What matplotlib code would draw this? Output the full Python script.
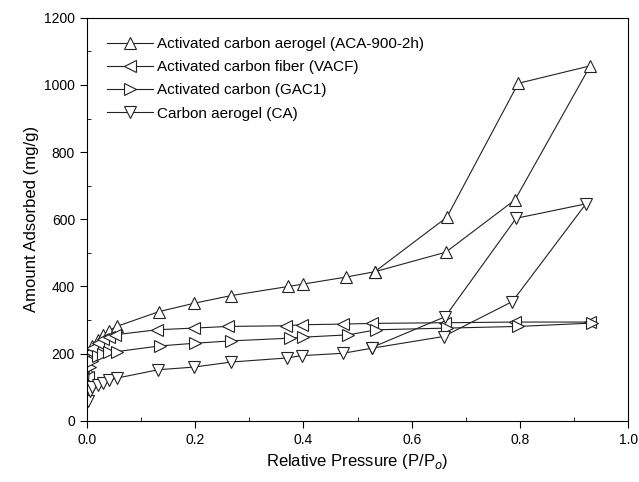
import matplotlib.pyplot as plt
from matplotlib.ticker import MultipleLocator

plt.rcParams['font.family'] = ['Liberation Sans', 'DejaVu Sans']

# adsorption branch followed by desorption branch
p_aca = [0.002, 0.005, 0.01, 0.02, 0.03, 0.04, 0.055, 0.133, 0.198, 0.267, 0.372, 0.399,
         0.479, 0.532, 0.665, 0.797, 0.930, 0.791, 0.663, 0.532]
q_aca = [150, 205, 222, 240, 255, 268, 281, 325, 350, 373, 400, 407,
         428, 444, 606, 1005, 1057, 658, 502, 444]

p_vacf = [0.002, 0.005, 0.01, 0.02, 0.03, 0.04, 0.052, 0.129, 0.197, 0.261, 0.368, 0.397,
          0.474, 0.526, 0.662, 0.791, 0.930]
q_vacf = [130, 205, 218, 232, 244, 250, 256, 271, 276, 281, 283, 286,
          288, 290, 292, 294, 294]

p_gac = [0.002, 0.005, 0.01, 0.02, 0.03, 0.04, 0.055, 0.135, 0.200, 0.267, 0.375, 0.400,
         0.483, 0.535, 0.665, 0.797, 0.933]
q_gac = [100, 160, 178, 192, 200, 204, 206, 223, 231, 238, 246, 249,
         256, 271, 276, 281, 291]

p_ca = [0.002, 0.005, 0.01, 0.02, 0.03, 0.04, 0.055, 0.132, 0.198, 0.267, 0.369, 0.397,
        0.473, 0.526, 0.659, 0.786, 0.922, 0.793, 0.662, 0.526]
q_ca = [60, 90, 100, 108, 114, 120, 127, 152, 160, 175, 187, 194,
        201, 216, 251, 355, 646, 603, 310, 218]

labels = ["Activated carbon aerogel (ACA-900-2h)",
          "Activated carbon fiber (VACF)",
          "Activated carbon (GAC1)",
          "Carbon aerogel (CA)"]

fig = plt.figure(figsize=(6.39, 4.82), dpi=100)
ax = fig.add_axes([0.136, 0.127, 0.847, 0.836])

style = dict(color='#222222', linewidth=0.8, markersize=8.5, markerfacecolor='white',
             markeredgecolor='#222222', markeredgewidth=0.8)
ax.plot(p_aca, q_aca, marker='^', label=labels[0], **style)
ax.plot(p_vacf, q_vacf, marker='<', label=labels[1], **style)
ax.plot(p_gac, q_gac, marker='>', label=labels[2], **style)
ax.plot(p_ca, q_ca, marker='v', label=labels[3], **style)

ax.set_xlim(0, 1.0)
ax.set_ylim(0, 1200)
ax.xaxis.set_major_locator(MultipleLocator(0.2))
ax.xaxis.set_minor_locator(MultipleLocator(0.1))
ax.yaxis.set_major_locator(MultipleLocator(200))
ax.yaxis.set_minor_locator(MultipleLocator(100))
ax.xaxis.set_major_formatter(plt.FormatStrFormatter('%.1f'))
ax.tick_params(which='major', direction='out', length=5, labelsize=10)
ax.tick_params(which='minor', direction='in', length=3)

ax.set_xlabel("Relative Pressure (P/P$_o$)", fontsize=12)
ax.set_ylabel("Amount Adsorbed (mg/g)", fontsize=12)

ax.legend(loc='upper left', bbox_to_anchor=(0.02, 0.975), frameon=False, fontsize=11,
          handlelength=3.0, handletextpad=0.3, labelspacing=0.6, borderaxespad=0.2)

fig.savefig("out.png", dpi=100)
